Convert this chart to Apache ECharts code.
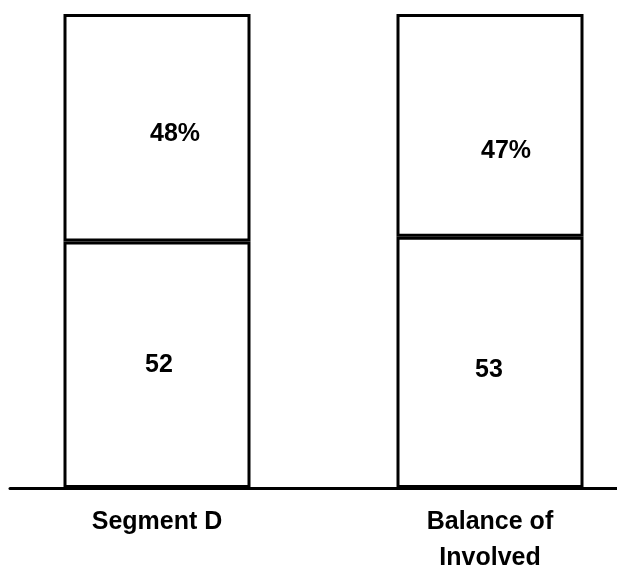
<!DOCTYPE html>
<html>
<head>
<meta charset="utf-8">
<style>
  html, body { margin: 0; padding: 0; background: #fff; }
  #chart { width: 617px; height: 571px; }
</style>
<script src="https://cdn.jsdelivr.net/npm/echarts@6/dist/echarts.min.js"></script>
</head>
<body>
<div id="chart"></div>
<script>
// Share of each group, bottom segment and top segment (percent)
const categories = ['Segment D', 'Balance of\nInvolved'];
const lowerShare = [52, 53];
const upperShare = [48, 47];

// Label nudges inside each segment, [dx, dy] in pixels
const lowerLabelShift = [[2, 0], [-1, 8]];
const upperLabelShift = [[18, 6], [16, 26]];

const FONT = 'Liberation Sans, Arial, sans-serif';

const chart = echarts.init(document.getElementById('chart'), null, { renderer: 'canvas' });

const barStyle = { color: '#ffffff', borderColor: '#000000', borderWidth: 3 };
const labelBase = {
  show: true,
  position: 'inside',
  color: '#000',
  fontFamily: FONT,
  fontWeight: 'bold',
  fontSize: 25
};

function items(values, shifts) {
  return values.map((v, i) => ({ value: v, label: { offset: shifts[i] } }));
}

chart.setOption({
  backgroundColor: '#ffffff',
  animation: false,
  grid: [
    // bars sit on the category ticks, so the grid spans bar centre to bar centre
    { left: 157, right: 127, top: 14, bottom: 83, outerBoundsMode: 'none', containLabel: false },
    { left: 10, right: 0, top: 14, bottom: 83, outerBoundsMode: 'none', containLabel: false }
  ],
  xAxis: [
    {
      type: 'category',
      gridIndex: 0,
      data: categories,
      boundaryGap: false,
      axisLine: { show: false },
      axisTick: { show: false },
      axisLabel: {
        color: '#000',
        fontFamily: FONT,
        fontWeight: 'bold',
        fontSize: 25,
        lineHeight: 36,
        margin: 16
      }
    },
    {
      type: 'category',
      gridIndex: 1,
      data: [''],
      axisLine: { show: true, lineStyle: { color: '#000', width: 3 } },
      axisTick: { show: false },
      axisLabel: { show: false }
    }
  ],
  yAxis: [
    { type: 'value', gridIndex: 0, min: 0, max: 100, show: false },
    { type: 'value', gridIndex: 1, min: 0, max: 100, show: false }
  ],
  series: [
    {
      type: 'bar',
      stack: 'share',
      barWidth: 187,
      itemStyle: barStyle,
      label: Object.assign({}, labelBase, { formatter: '{c}' }),
      data: items(lowerShare, lowerLabelShift)
    },
    {
      type: 'bar',
      stack: 'share',
      barWidth: 187,
      itemStyle: barStyle,
      label: Object.assign({}, labelBase, { formatter: '{c}%' }),
      data: items(upperShare, upperLabelShift)
    }
  ]
});
</script>
</body>
</html>
